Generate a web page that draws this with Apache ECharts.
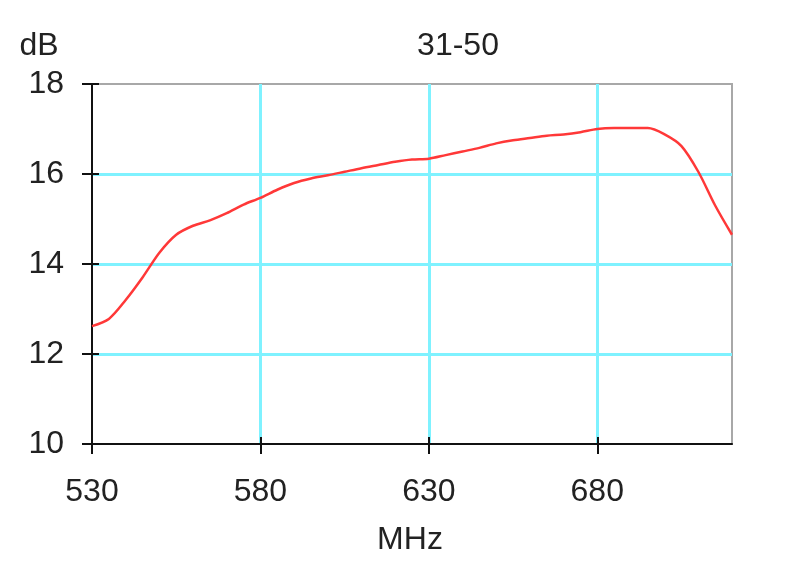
<!DOCTYPE html>
<html>
<head>
<meta charset="utf-8">
<script src="https://cdn.jsdelivr.net/npm/echarts@6/dist/echarts.min.js"></script>
<style>html,body{margin:0;padding:0;background:#fff}#c{width:800px;height:586px}</style>
</head>
<body>
<div id="c"></div>
<script>
const freqMHz = [530,535,540,545,550,555,560,565,570,575,580,585,590,595,600,605,610,615,620,625,630,635,640,645,650,655,660,665,670,675,680,685,690,695,700,705,710,715,720];
const gainDb = [12.62,12.78,13.2,13.7,14.25,14.65,14.85,14.97,15.13,15.32,15.47,15.65,15.8,15.9,15.97,16.05,16.13,16.2,16.27,16.32,16.34,16.42,16.5,16.58,16.68,16.75,16.8,16.85,16.88,16.93,17.0,17.02,17.02,17.02,16.88,16.62,16.05,15.3,14.65];
const xTicks = [530,580,630,680];
const yTicks = [10,12,14,16,18];
const titleText = '31-50';
const yUnit = 'dB';
const xUnit = 'MHz';

const chart = echarts.init(document.getElementById('c'));
const FONT = 'Liberation Sans, Arial, sans-serif';
const FS = 32;
const gridRect = {left:92, right:68, top:84, bottom:142};
const points = freqMHz.map((f,i)=>[f, gainDb[i]]);
const cyan = '#7ff2ff';
const hiddenLine = {color:'#111', width:2, opacity:0};

chart.setOption({
  animation:false,
  backgroundColor:'#fff',
  grid:[
    Object.assign({show:true, borderColor:'#a8a8a8', borderWidth:2, backgroundColor:'transparent'}, gridRect),
    Object.assign({}, gridRect),
    Object.assign({}, gridRect)
  ],
  xAxis:[{
    type:'value', gridIndex:0, min:530, max:720, interval:50,
    axisLine:{show:true, lineStyle:{color:'#111', width:2}},
    axisTick:{show:true, length:10, customValues:xTicks, lineStyle:{color:'#111', width:2}},
    axisLabel:{fontFamily:FONT, fontSize:FS, color:'#222', margin:32, customValues:xTicks},
    splitLine:{show:false}
  },{
    type:'value', gridIndex:1, min:530, max:720, interval:50,
    axisLine:{show:true, lineStyle:hiddenLine},
    axisTick:{show:false},
    axisLabel:{show:false},
    splitLine:{show:true, showMinLine:false, showMaxLine:false, lineStyle:{color:cyan, width:3}}
  },{
    type:'value', gridIndex:2, min:530, max:720, interval:50,
    axisLine:{show:true, lineStyle:hiddenLine},
    axisTick:{show:true, inside:true, length:7, customValues:xTicks, lineStyle:{color:'#111', width:2}},
    axisLabel:{show:false},
    splitLine:{show:false}
  }],
  yAxis:[{
    type:'value', gridIndex:0, min:10, max:18, interval:2,
    axisLine:{show:true, lineStyle:{color:'#111', width:2}},
    axisTick:{show:true, length:10, lineStyle:{color:'#111', width:2}},
    axisLabel:{fontFamily:FONT, fontSize:FS, color:'#222', margin:28,
      formatter:v=> yTicks.includes(v) ? String(v) : ''},
    splitLine:{show:true, showMinLine:false, showMaxLine:false, lineStyle:{color:cyan, width:3}}
  },{
    type:'value', gridIndex:1, min:10, max:18, interval:2,
    axisLine:{show:true, lineStyle:hiddenLine},
    axisTick:{show:true, inside:true, length:7, lineStyle:{color:'#111', width:2}},
    axisLabel:{show:false}, splitLine:{show:false}
  },{
    type:'value', gridIndex:2, min:10, max:18, interval:2,
    show:false
  }],
  series:[{
    type:'line', xAxisIndex:0, yAxisIndex:0, data:points,
    showSymbol:false, smooth:0.3,
    lineStyle:{color:'#ff3838', width:2.5}, z:5
  },{
    type:'line', xAxisIndex:1, yAxisIndex:1, data:points,
    showSymbol:false, silent:true, lineStyle:{opacity:0}
  },{
    type:'line', xAxisIndex:2, yAxisIndex:2, data:points,
    showSymbol:false, silent:true, lineStyle:{opacity:0}
  }],
  graphic:[
    {type:'text', x:458, y:46, style:{text:titleText, font:FS+'px '+FONT, fill:'#222', textAlign:'center', textVerticalAlign:'middle'}},
    {type:'text', x:39, y:46, style:{text:yUnit, font:FS+'px '+FONT, fill:'#222', textAlign:'center', textVerticalAlign:'middle'}},
    {type:'text', x:410, y:540, style:{text:xUnit, font:FS+'px '+FONT, fill:'#222', textAlign:'center', textVerticalAlign:'middle'}}
  ]
});
</script>
</body>
</html>
